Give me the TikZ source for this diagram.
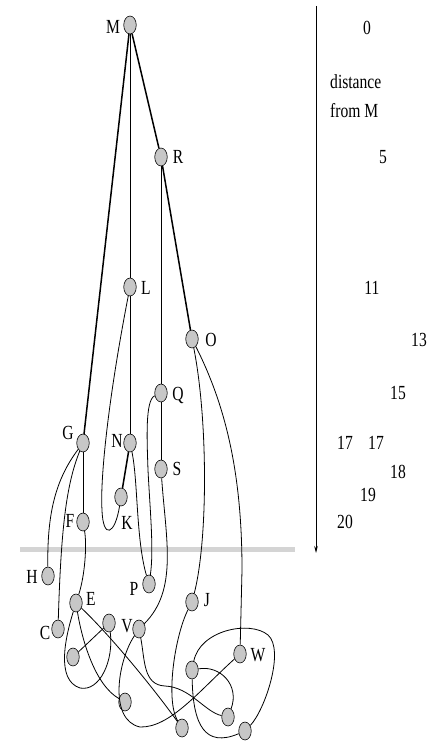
\documentclass[tikz,border=0pt]{standalone}
\usepackage{fontspec}
\setmainfont{Liberation Serif}
\usetikzlibrary{shapes.geometric,arrows.meta}
\newcommand\nrw[1]{\scalebox{0.78}[1]{#1}}
\begin{document}
\begin{tikzpicture}[x=1pt,y=-1pt,
  vtx/.style={ellipse,draw=black,line width=0.6pt,fill=black!22,minimum width=12.5pt,minimum height=18pt,inner sep=0pt},
  lbl/.style={inner sep=0pt,font=\fontsize{20}{22}\selectfont},
  edge/.style={line width=0.8pt},
  heavy/.style={line width=1.5pt},
]
\useasboundingbox (0,0) rectangle (430,746);

% separator bar
\coordinate (b0) at (20,549);
\coordinate (b1) at (295,549);
\draw[line width=5pt,draw=black!17] (b0) -- (b1);

% distance axis
\coordinate (ax0) at (316,6);
\coordinate (ax1) at (316,553);
\draw[line width=0.7pt,-{Stealth[length=7pt,width=3.5pt]}] (ax0) -- (ax1);

% vertices
\node[vtx] (M) at (130,25) {};
\node[vtx] (R) at (161,157) {};
\node[vtx] (L) at (130,287) {};
\node[vtx] (O) at (192,339) {};
\node[vtx] (Q) at (161,393) {};
\node[vtx] (G) at (83,443) {};
\node[vtx] (N) at (130,443) {};
\node[vtx] (S) at (161,469) {};
\node[vtx] (K) at (121,497) {};
\node[vtx] (F) at (83,522) {};
\node[vtx] (H) at (48,576) {};
\node[vtx] (P) at (149,584) {};
\node[vtx] (E) at (76,603) {};
\node[vtx] (J) at (192,602) {};
\node[vtx] (C) at (58,629) {};
\node[vtx] (u1) at (109,623) {};
\node[vtx] (V) at (139,629) {};
\node[vtx] (W) at (240,654) {};
\node[vtx] (u2) at (73,657) {};
\node[vtx] (u3) at (192,670) {};
\node[vtx] (u4) at (125,702) {};
\node[vtx] (u5) at (182,728) {};
\node[vtx] (u6) at (228,717) {};
\node[vtx] (u7) at (245,731) {};

% vertex labels
\node[lbl] (lM) at (113,27) {\nrw{M}};
\node[lbl] (lR) at (178,157) {\nrw{R}};
\node[lbl] (lL) at (146,288) {\nrw{L}};
\node[lbl] (lO) at (211,340) {\nrw{O}};
\node[lbl] (lQ) at (178,395) {\nrw{Q}};
\node[lbl] (lG) at (68,433) {\nrw{G}};
\node[lbl] (lN) at (117,441) {\nrw{N}};
\node[lbl] (lS) at (177,469) {\nrw{S}};
\node[lbl] (lK) at (127,523) {\nrw{K}};
\node[lbl] (lF) at (70,521) {\nrw{F}};
\node[lbl] (lH) at (32,577) {\nrw{H}};
\node[lbl] (lP) at (134,589) {\nrw{P}};
\node[lbl] (lE) at (91,599) {\nrw{E}};
\node[lbl] (lJ) at (207,600) {\nrw{J}};
\node[lbl] (lC) at (45,633) {\nrw{C}};
\node[lbl] (lV) at (127,626) {\nrw{V}};
\node[lbl] (lW) at (258,655) {\nrw{W}};

% distance scale
\node[lbl] (d0) at (367,28) {\nrw{0}};
\node[lbl,anchor=west] (dl1) at (330,82) {\nrw{distance}};
\node[lbl,anchor=west] (dl2) at (330,111) {\nrw{from M}};
\node[lbl] (d5) at (383,157) {\nrw{5}};
\node[lbl] (d11) at (372,288) {\nrw{11}};
\node[lbl] (d13) at (419,340) {\nrw{13}};
\node[lbl] (d15) at (398,393) {\nrw{15}};
\node[lbl] (d17a) at (345,443) {\nrw{17}};
\node[lbl] (d17b) at (376,443) {\nrw{17}};
\node[lbl] (d18) at (398,472) {\nrw{18}};
\node[lbl] (d19) at (368,495) {\nrw{19}};
\node[lbl] (d20) at (345,522) {\nrw{20}};

% shortest-path tree (heavy) and straight edges
\draw[heavy] (M) -- (G);
\draw[heavy] (M) -- (R);
\draw[heavy] (R) -- (O);
\draw[heavy] (N) -- (K);
\draw[edge] (M) -- (L);
\draw[edge] (R) -- (Q);
\draw[edge] (L) -- (N);
\draw[edge] (Q) -- (S);
\draw[edge] (G) -- (F);
\draw[edge] (u1) -- (u2);

% curved edges
\draw[edge] (L) .. controls (108,400) and (100,480) .. (102,510) .. controls (103,540) and (115,535) .. (K);
\draw[edge] (N) .. controls (138,480) and (136,540) .. (P);
\draw[edge] (Q) .. controls (145,400) and (147,440) .. (148,470) .. controls (150,510) and (154,550) .. (P);
\draw[edge] (S) .. controls (166,540) and (178,590) .. (V);
\draw[edge] (O) .. controls (208,420) and (208,540) .. (J);
\draw[edge] (O) .. controls (228,410) and (242,480) .. (242,570) -- (W);
\draw[edge] (G) .. controls (55,480) and (47,515) .. (H);
\draw[edge] (G) .. controls (66,485) and (61,530) .. (C);
\draw[edge] (F) .. controls (87,545) and (85,575) .. (E);
\draw[edge] (E) .. controls (66,635) and (55,680) .. (80,688) .. controls (100,692) and (114,660) .. (u1);
\draw[edge] (E) .. controls (82,640) and (95,685) .. (u4);
\draw[edge] (E) .. controls (110,635) and (155,690) .. (u5);
\draw[edge] (V) .. controls (118,660) and (108,720) .. (140,727) .. controls (170,728) and (200,690) .. (W);
\draw[edge] (V) .. controls (145,660) and (143,685) .. (165,686) .. controls (190,687) and (205,712) .. (u6);
\draw[edge] (J) .. controls (175,635) and (165,700) .. (u5);
\draw[edge] (u3) .. controls (200,630) and (250,620) .. (268,635) .. controls (285,650) and (265,710) .. (u7);
\draw[edge] (u3) .. controls (220,665) and (240,685) .. (u6);
\draw[edge] (u3) .. controls (193,725) and (205,748) .. (u7);
\end{tikzpicture}
\end{document}
